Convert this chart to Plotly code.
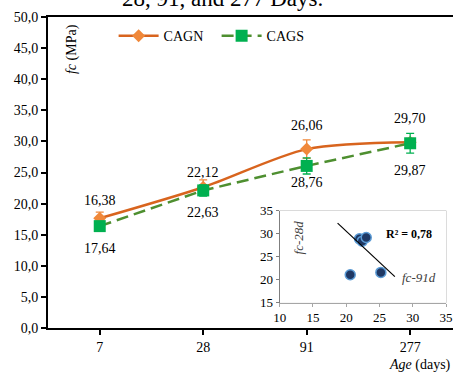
import plotly.graph_objects as go

ages = ["7", "28", "91", "277"]
cagn = [17.64, 22.63, 28.76, 29.87]
cagn_err = [1.0, 1.2, 1.5, 0.6]
cags = [16.38, 22.12, 26.06, 29.70]
cags_err = [0.6, 0.9, 1.3, 1.6]
upper_labels = ["16,38", "22,12", "26,06", "29,70"]
lower_labels = ["17,64", "22,63", "28,76", "29,87"]
y_ticks = [0, 5, 10, 15, 20, 25, 30, 35, 40, 45, 50]
y_ticktext = ["0,0", "5,0", "10,0", "15,0", "20,0", "25,0", "30,0", "35,0", "40,0", "45,0", "50,0"]

inset_x = [20.6, 22.0, 22.4, 23.0, 25.2]
inset_y = [21.1, 28.9, 28.4, 29.2, 21.6]
trend_x = [18.7, 27.3]
trend_y = [32.3, 20.7]

FONT = "Liberation Serif, Times New Roman, DejaVu Serif, serif"
ORANGE_LINE = "#D8641E"
ORANGE_MK = "#F0883A"
GREEN_LINE = "#4E8F30"
GREEN_MK = "#00B050"

fig = go.Figure()

fig.add_trace(go.Scatter(
    x=ages, y=cagn, name="CAGN", mode="lines+markers",
    line=dict(color=ORANGE_LINE, width=2.5, shape="spline", smoothing=0.8),
    marker=dict(symbol="diamond", size=10, color=ORANGE_MK),
    error_y=dict(type="data", array=cagn_err, color=ORANGE_MK, thickness=1.3, width=4),
))
fig.add_trace(go.Scatter(
    x=ages, y=cags, name="CAGS", mode="lines+markers",
    line=dict(color=GREEN_LINE, width=2.5, dash="12px,6px"),
    marker=dict(symbol="square", size=12, color=GREEN_MK),
    error_y=dict(type="data", array=cags_err, color=GREEN_MK, thickness=1.3, width=4),
))

upper_shift = [18, 15, 24, 24]
lower_shift = [-22, -22, -17, -27]
for i, a in enumerate(ages):
    fig.add_annotation(x=i, y=max(cagn[i], cags[i]), text=upper_labels[i], showarrow=False,
                       yshift=upper_shift[i], font=dict(family=FONT, size=14, color="black"))
    fig.add_annotation(x=i, y=min(cagn[i], cags[i]), text=lower_labels[i], showarrow=False,
                       yshift=lower_shift[i], font=dict(family=FONT, size=14, color="black"))

# inset
fig.add_trace(go.Scatter(
    x=inset_x, y=inset_y, mode="markers", xaxis="x2", yaxis="y2", showlegend=False,
    marker=dict(size=10, color="#1F3864", line=dict(color="#5B9BD5", width=1.5)),
))
fig.add_trace(go.Scatter(
    x=trend_x, y=trend_y, mode="lines", xaxis="x2", yaxis="y2", showlegend=False,
    line=dict(color="black", width=1.2),
))

fig.add_shape(type="rect", xref="x2 domain", yref="y2 domain", x0=0, x1=1, y0=0, y1=1,
              fillcolor="#F2F2F2", line=dict(color="#BFBFBF", width=1), layer="below")

fig.add_annotation(xref="x2 domain", yref="y2 domain", x=0.93, y=0.84, text="<b>R² = 0,78</b>",
                   showarrow=False, xanchor="right", font=dict(family=FONT, size=12, color="black"))
fig.add_annotation(xref="x2 domain", yref="y2 domain", x=0.055, y=0.92, text="<i>fc-28d</i>",
                   showarrow=False, textangle=-90, yanchor="top",
                   font=dict(family=FONT, size=13, color="#404040"))
fig.add_annotation(xref="x2 domain", yref="y2 domain", x=0.95, y=0.17, text="<i>fc-91d</i>",
                   showarrow=False, xanchor="right",
                   font=dict(family=FONT, size=13, color="#404040"))

# axis titles & title
fig.add_annotation(xref="paper", yref="paper", x=0.033, y=0.985, yanchor="top",
                   text="<i>fc</i> (MPa)", showarrow=False, textangle=-90,
                   font=dict(family=FONT, size=14, color="black"))
fig.add_annotation(xref="paper", yref="paper", x=1.0, xanchor="right", y=-0.088, yanchor="top",
                   text="<i>Age</i> (days)", showarrow=False,
                   font=dict(family=FONT, size=14, color="black"))
fig.add_annotation(xref="paper", yref="paper", x=0.43, xanchor="center", y=1.013, yanchor="bottom",
                   text="28, 91, and 277 Days.", showarrow=False,
                   font=dict(family=FONT, size=23, color="black"))

fig.update_layout(
    width=459, height=374,
    margin=dict(l=48, r=0, t=17, b=46),
    paper_bgcolor="white", plot_bgcolor="white",
    font=dict(family=FONT, size=14, color="black"),
    showlegend=True,
    legend=dict(orientation="h", x=0.162, y=0.99, xanchor="left", yanchor="top",
                font=dict(family=FONT, size=14), entrywidth=48, bgcolor="rgba(0,0,0,0)",
                itemwidth=40),
    xaxis=dict(type="category", categoryorder="array", categoryarray=ages,
               range=[-0.5, 3.414], showgrid=False, zeroline=False,
               showline=True, linecolor="black", linewidth=2, mirror=True,
               ticks="outside", ticklen=5, tickwidth=1.5, tickcolor="black",
               tickfont=dict(family=FONT, size=14)),
    yaxis=dict(range=[0, 50], tickvals=y_ticks, ticktext=y_ticktext, showgrid=False,
               zeroline=False, showline=True, linecolor="black", linewidth=2,
               ticks="outside", ticklen=5, tickwidth=1.5, tickcolor="black",
               tickfont=dict(family=FONT, size=14)),
    xaxis2=dict(domain=[0.572, 0.983], anchor="y2", range=[10, 35],
                tickvals=[10, 15, 20, 25, 30, 35], showgrid=False, zeroline=False,
                showline=True, linecolor="#A6A6A6", linewidth=1, ticks="outside",
                ticklen=3, tickcolor="#A6A6A6", tickfont=dict(family=FONT, size=13)),
    yaxis2=dict(domain=[0.081, 0.377], anchor="x2", range=[15, 35],
                tickvals=[15, 20, 25, 30, 35], showgrid=False, zeroline=False,
                showline=True, linecolor="#7F7F7F", linewidth=1, ticks="outside",
                ticklen=3, tickcolor="#7F7F7F", tickfont=dict(family=FONT, size=13)),
)

fig.write_html("out.html", config={"displayModeBar": False},
               post_script="document.body.style.margin='0';document.body.style.overflow='hidden';")
